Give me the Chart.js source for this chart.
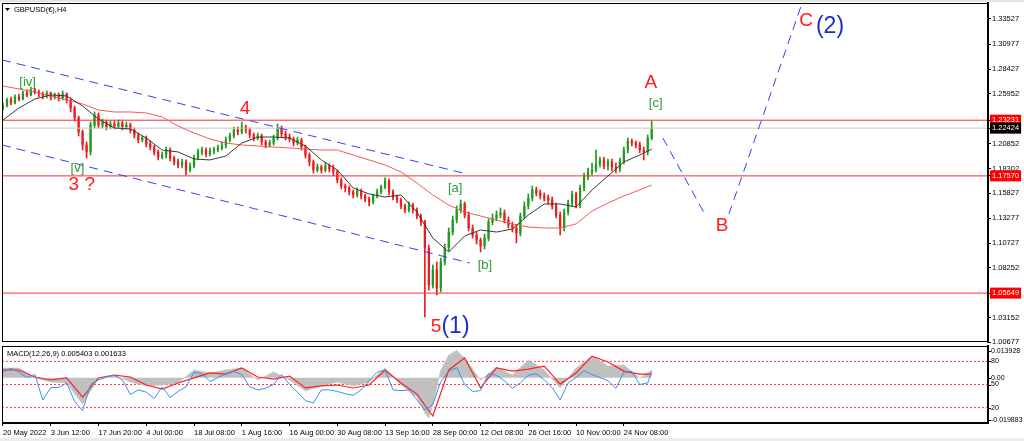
<!DOCTYPE html>
<html>
<head>
<meta charset="utf-8">
<title>GBPUSD H4</title>
<script src="https://cdn.jsdelivr.net/npm/chart.js@4.4.1/dist/chart.umd.min.js"></script>
<style>
body { margin: 0; background: #fff; }
#wrap { position: relative; width: 1024px; height: 441px; overflow: hidden; background: #fff; }
#main { position: absolute; left: 0; top: 0; }
#macd { position: absolute; left: 0; top: 343px; }
#topbar { position: absolute; left: 0; top: 0; width: 1024px; height: 2px; background: #e4e4e4; }
#botbar { position: absolute; left: 0; top: 438px; width: 1024px; height: 3px; background: #ececec; }
</style>
</head>
<body>
<div id="wrap">
  <canvas id="main" width="1024" height="346"></canvas>
  <canvas id="macd" width="1024" height="98"></canvas>
  <div id="topbar"></div>
  <div id="botbar"></div>
</div>
<script>
// price data, H4 candles (open = previous close)
var firstOpen = 1.2447;
var closes = [1.2468,1.2529,1.2498,1.2559,1.2539,1.2600,1.2580,1.2631,1.2610,1.2590,
  1.2570,1.2600,1.2559,1.2580,1.2549,1.2590,1.2529,1.2447,1.2346,1.2203,
  1.2071,1.2000,1.2274,1.2376,1.2274,1.2305,1.2254,1.2285,1.2264,1.2295,
  1.2254,1.2274,1.2224,1.2173,1.2122,1.2142,1.2081,1.2051,1.2000,1.1949,
  1.1969,1.2020,1.1939,1.1898,1.1868,1.1898,1.1817,1.1858,1.1939,1.2000,
  1.2020,1.1980,1.2010,1.2020,1.2041,1.2061,1.2122,1.2163,1.2224,1.2203,
  1.2254,1.2224,1.2173,1.2142,1.2163,1.2102,1.2071,1.2091,1.2142,1.2244,
  1.2183,1.2152,1.2132,1.2091,1.2122,1.2051,1.1969,1.1898,1.1817,1.1847,
  1.1817,1.1858,1.1827,1.1797,1.1715,1.1654,1.1634,1.1593,1.1563,1.1603,
  1.1553,1.1522,1.1492,1.1553,1.1593,1.1644,1.1705,1.1593,1.1542,1.1512,
  1.1451,1.1410,1.1461,1.1410,1.1349,1.1288,1.1024,1.0647,1.0800,1.0617,
  1.0881,1.1024,1.1186,1.1308,1.1410,1.1471,1.1359,1.1227,1.1156,1.1105,
  1.1044,1.1125,1.1288,1.1329,1.1359,1.1380,1.1308,1.1258,1.1227,1.1176,
  1.1349,1.1451,1.1532,1.1614,1.1583,1.1553,1.1532,1.1512,1.1451,1.1359,
  1.1227,1.1390,1.1481,1.1573,1.1461,1.1634,1.1746,1.1797,1.1817,1.1878,
  1.1919,1.1858,1.1898,1.1847,1.1827,1.1908,1.2020,1.2112,1.2091,1.2071,
  1.2020,1.2000,1.2142,1.2244];
var highs = [1.2498,1.2549,1.2559,1.2580,1.2590,1.2620,1.2631,1.2661,1.2651,1.2631,
  1.2610,1.2620,1.2610,1.2600,1.2600,1.2620,1.2600,1.2549,1.2468,1.2366,
  1.2224,1.2102,1.2305,1.2407,1.2397,1.2335,1.2325,1.2315,1.2315,1.2325,
  1.2315,1.2305,1.2295,1.2244,1.2193,1.2163,1.2163,1.2112,1.2071,1.2020,
  1.2000,1.2051,1.2041,1.1959,1.1929,1.1929,1.1919,1.1888,1.1969,1.2030,
  1.2051,1.2041,1.2041,1.2051,1.2071,1.2102,1.2152,1.2193,1.2254,1.2254,
  1.2305,1.2274,1.2244,1.2193,1.2193,1.2183,1.2122,1.2122,1.2173,1.2285,
  1.2264,1.2213,1.2183,1.2152,1.2152,1.2142,1.2071,1.1990,1.1919,1.1878,
  1.1868,1.1888,1.1878,1.1868,1.1817,1.1736,1.1675,1.1654,1.1614,1.1634,
  1.1624,1.1573,1.1542,1.1573,1.1624,1.1664,1.1736,1.1725,1.1614,1.1563,
  1.1532,1.1471,1.1492,1.1481,1.1431,1.1369,1.1308,1.1054,1.0851,1.0881,
  1.0922,1.1064,1.1227,1.1349,1.1451,1.1512,1.1492,1.1390,1.1258,1.1186,
  1.1125,1.1166,1.1319,1.1369,1.1400,1.1431,1.1410,1.1339,1.1288,1.1258,
  1.1380,1.1492,1.1573,1.1654,1.1644,1.1614,1.1583,1.1563,1.1542,1.1481,
  1.1390,1.1420,1.1512,1.1603,1.1593,1.1664,1.1786,1.1837,1.1888,1.2020,
  1.1949,1.1949,1.1929,1.1929,1.1888,1.1939,1.2051,1.2142,1.2132,1.2112,
  1.2102,1.2051,1.2173,1.2315];
var lows = [1.2427,1.2458,1.2478,1.2488,1.2519,1.2529,1.2559,1.2570,1.2590,1.2559,
  1.2539,1.2549,1.2529,1.2539,1.2519,1.2529,1.2498,1.2407,1.2315,1.2163,
  1.2020,1.1939,1.1969,1.2244,1.2244,1.2244,1.2224,1.2234,1.2234,1.2244,
  1.2224,1.2234,1.2193,1.2142,1.2091,1.2102,1.2051,1.2020,1.1969,1.1919,
  1.1929,1.1939,1.1908,1.1868,1.1837,1.1837,1.1766,1.1797,1.1837,1.1919,
  1.1969,1.1949,1.1959,1.1980,1.2000,1.2020,1.2041,1.2102,1.2142,1.2173,
  1.2183,1.2193,1.2142,1.2112,1.2122,1.2071,1.2041,1.2051,1.2071,1.2122,
  1.2152,1.2122,1.2102,1.2061,1.2071,1.2020,1.1939,1.1858,1.1786,1.1797,
  1.1786,1.1797,1.1797,1.1756,1.1685,1.1624,1.1593,1.1563,1.1532,1.1542,
  1.1522,1.1492,1.1451,1.1471,1.1532,1.1573,1.1624,1.1563,1.1512,1.1481,
  1.1420,1.1380,1.1390,1.1380,1.1319,1.1247,1.0322,1.0596,1.0617,1.0546,
  1.0576,1.0851,1.0993,1.1156,1.1278,1.1380,1.1329,1.1197,1.1125,1.1064,
  1.0983,1.1013,1.1095,1.1258,1.1298,1.1329,1.1278,1.1227,1.1186,1.1075,
  1.1146,1.1319,1.1420,1.1502,1.1553,1.1522,1.1502,1.1471,1.1420,1.1329,
  1.1156,1.1197,1.1359,1.1451,1.1431,1.1431,1.1603,1.1715,1.1766,1.1797,
  1.1847,1.1827,1.1817,1.1807,1.1786,1.1797,1.1878,1.1990,1.2061,1.2041,
  1.1990,1.1919,1.1969,1.2122];

// moving averages, read every 4th bar
var maIdx = [0,4,8,12,16,20,24,28,32,36,40,44,48,52,56,60,64,68,72,76,80,84,88,92,96,100,104,108,112,116,120,124,128,132,136,140,144,148,152,156,160,163];
var maFast = [1.2325,1.2447,1.2539,1.2580,1.2570,1.2468,1.2335,1.2244,1.2234,1.2142,
  1.2020,1.2000,1.1929,1.1919,1.1959,1.2091,1.2152,1.2152,1.2142,1.2061,
  1.1919,1.1817,1.1634,1.1573,1.1542,1.1563,1.1390,1.1125,1.0983,1.1146,
  1.1207,1.1186,1.1217,1.1359,1.1471,1.1471,1.1441,1.1614,1.1756,1.1898,
  1.1969,1.2030];
var maSlow = [1.2671,1.2641,1.2610,1.2570,1.2529,1.2488,1.2427,1.2407,1.2407,1.2397,
  1.2356,1.2264,1.2193,1.2132,1.2091,1.2071,1.2061,1.2051,1.2041,1.2030,
  1.2020,1.2020,1.1969,1.1919,1.1868,1.1797,1.1685,1.1563,1.1461,1.1390,
  1.1349,1.1308,1.1268,1.1237,1.1227,1.1227,1.1268,1.1400,1.1481,1.1553,
  1.1614,1.1664];

var priceTicks = [1.33527, 1.30977, 1.28427, 1.25952, 1.23231, 1.22424, 1.20852, 1.18302, 1.17570, 1.15827, 1.13277, 1.10727, 1.08252, 1.05649, 1.03152, 1.00677];
var redLevels = [1.23231, 1.17570, 1.05649];
var bidPrice = 1.22424;

// channel and projection lines (bar index, price)
var chanUpIdx = [-0.25, 115.6], chanUpPrice = [1.2936, 1.1786];
var chanLoIdx = [-0.25, 117.3], chanLoPrice = [1.2071, 1.0871];
var projAIdx = [165.8, 176.6], projAPrice = [1.2142, 1.1349];
var projBIdx = [182.4, 200.8], projBPrice = [1.1369, 1.3515];

var timeIdx = [0, 12, 24, 36, 48, 60, 72, 84, 96, 108, 120, 132, 144, 156];
var timeLabels = ['20 May 2022', '3 Jun 12:00', '17 Jun 20:00', '4 Jul 00:00', '18 Jul 08:00', '1 Aug 16:00', '16 Aug 00:00', '30 Aug 08:00', '13 Sep 16:00', '28 Sep 00:00', '12 Oct 08:00', '26 Oct 16:00', '10 Nov 00:00', '24 Nov 08:00'];

// MACD window
var histIdx = [0,4,8,12,16,20,24,28,32,36,40,44,48,52,56,60,64,68,72,76,80,84,88,92,96,100,104,106,107,108,110,112,114,116,120,124,128,132,136,140,144,148,152,156,160,163];
var histVal = [0.0043,0.0043,-0.0001,-0.0019,-0.0023,-0.0116,-0.0001,0.0012,-0.0019,-0.0036,
  -0.0032,-0.0023,0.0034,0.0021,0.0034,0.0043,-0.0010,0.0025,-0.0010,-0.0058,
  -0.0036,-0.0019,-0.0036,-0.0019,0.0043,-0.0032,-0.0085,-0.0155,-0.0177,-0.0120,
  0.0034,0.0100,0.0120,0.0087,-0.0010,0.0047,0.0012,0.0078,0.0034,-0.0045,
  0.0043,0.0095,0.0051,0.0056,-0.0001,0.0034];
var signalVal = [0.0034,0.0034,0.0003,-0.0010,-0.0001,-0.0085,-0.0001,0.0012,0.0003,-0.0032,
  -0.0050,-0.0023,-0.0001,0.0021,0.0016,0.0043,0.0003,-0.0006,0.0007,-0.0045,
  -0.0036,-0.0032,-0.0045,-0.0032,0.0034,-0.0023,-0.0072,-0.0168,0.0034,0.0087,
  -0.0045,0.0043,0.0029,0.0038,0.0051,-0.0028,0.0021,0.0095,0.0069,0.0029,
  0.0016,0.0016];
var oscIdx = [0,2,4,6,8,10,12,14,16,18,20,22,24,26,28,30,32,34,36,38,40,42,44,46,48,50,52,54,56,58,60,62,64,66,68,70,72,74,76,78,80,82,84,86,88,90,92,94,96,98,100,102,104,106,108,110,112,114,116,118,120,122,124,126,128,130,132,134,136,138,140,142,144,146,148,150,152,154,156,158,160,162,163];
var oscVal = [66,71,66,59,63,30,46,46,52,28,
  16,50,56,60,62,56,37,43,40,32,
  47,33,41,47,66,64,54,59,64,67,
  63,47,43,45,50,63,50,40,29,26,
  43,43,41,38,36,43,55,66,69,43,
  42,43,30,17,24,54,67,72,50,41,
  42,64,62,55,45,52,62,64,56,46,
  30,52,59,68,63,59,55,45,66,67,
  50,52,67];
var oscLevels = [80, 50, 20];
var macdMin = -0.019883, macdMax = 0.013928;

// wave count labels
var waveText = ['[iv]', '[v]', '3 ?', '4', '[a]', '[b]', '5', '(1)', 'A', '[c]', 'B', 'C', '(2)'];
var waveIdx = [6.2, 18.7, 19.8, 60.8, 113.6, 121.1, 108.8, 113.7, 162.8, 164.0, 180.7, 201.8, 207.8];
var wavePrice = [1.2707, 1.1832, 1.1664, 1.2437, 1.1629, 1.0851, 1.0220, 1.0220, 1.2707, 1.2493, 1.1247, 1.3332, 1.3271];
var waveKind = ['g', 'g', 'r', 'r', 'g', 'g', 'r', 'b', 'r', 'g', 'r', 'r', 'b'];
var waveStyle = {
  g: { color: '#2f9a36', size: 13 },
  r: { color: '#ff1a1a', size: 19 },
  b: { color: '#1a2ec8', size: 23 }
};

var xMin = -0.25, xMax = 247.5;
var yMin = 1.00677, yMax = 1.3515;
var upColor = '#1f9b1f', downColor = '#ee1c1c';
var axisFont = { family: 'Liberation Sans', size: 7.5 };

var opens = closes.map(function(c, i) { return i === 0 ? firstOpen : closes[i - 1]; });
var candleColors = closes.map(function(c, i) { return c >= opens[i] ? upColor : downColor; });

function pts(xs, ys) {
  return xs.map(function(x, i) { return { x: x, y: ys[i] }; });
}

function hline(v) {
  return [{ x: xMin, y: v }, { x: xMax, y: v }];
}

function lineSet(data, color, width, dash, order, axis) {
  return {
    type: 'line',
    data: data,
    borderColor: color,
    borderWidth: width,
    borderDash: dash || [],
    pointRadius: 0,
    fill: false,
    tension: 0,
    order: order,
    yAxisID: axis || 'y'
  };
}

function isRed(v) {
  return redLevels.some(function(l) { return Math.abs(l - v) < 1e-7; });
}

function isBid(v) {
  return Math.abs(v - bidPrice) < 1e-7;
}

var framePlugin = {
  id: 'frame',
  afterDraw: function(chart) {
    var a = chart.chartArea;
    var ctx = chart.ctx;
    ctx.save();
    ctx.strokeStyle = '#000';
    ctx.lineWidth = 1;
    ctx.strokeRect(a.left + 0.5, a.top + 0.5, a.right - a.left - 1, a.bottom - a.top - 1);
    ctx.restore();
  }
};

var titlePlugin = {
  id: 'title',
  afterDraw: function(chart) {
    var ctx = chart.ctx;
    ctx.save();
    ctx.fillStyle = '#000';
    ctx.beginPath();
    ctx.moveTo(5, 8);
    ctx.lineTo(10, 8);
    ctx.lineTo(7.5, 11);
    ctx.closePath();
    ctx.fill();
    ctx.font = '7.5px "Liberation Sans"';
    ctx.textBaseline = 'middle';
    ctx.fillText('GBPUSD(\u20ac),H4', 14, 10);
    ctx.restore();
  }
};

var wavePlugin = {
  id: 'waves',
  afterDatasetsDraw: function(chart) {
    var ctx = chart.ctx;
    var sx = chart.scales.x, sy = chart.scales.y;
    ctx.save();
    ctx.textAlign = 'center';
    ctx.textBaseline = 'middle';
    for (var i = 0; i < waveText.length; i++) {
      var st = waveStyle[waveKind[i]];
      ctx.font = st.size + 'px "Liberation Sans"';
      ctx.fillStyle = st.color;
      ctx.fillText(waveText[i], sx.getPixelForValue(waveIdx[i]), sy.getPixelForValue(wavePrice[i]));
    }
    ctx.restore();
  }
};

var macdLabelPlugin = {
  id: 'macdLabels',
  afterDraw: function(chart) {
    var ctx = chart.ctx;
    var a = chart.chartArea;
    var sy = chart.scales.y, s2 = chart.scales.y2;
    var labels = [
      { t: macdMax.toFixed(6), y: a.top + 5 },
      { t: '0.00', y: sy.getPixelForValue(0) },
      { t: macdMin.toFixed(6), y: a.bottom - 3 }
    ];
    oscLevels.forEach(function(l) {
      labels.push({ t: String(l), y: s2.getPixelForValue(l) });
    });
    ctx.save();
    ctx.font = '7px "Liberation Sans"';
    ctx.fillStyle = '#000';
    ctx.strokeStyle = '#000';
    ctx.textBaseline = 'middle';
    labels.forEach(function(l) {
      ctx.beginPath();
      ctx.moveTo(a.right, Math.round(l.y) + 0.5);
      ctx.lineTo(a.right + 3, Math.round(l.y) + 0.5);
      ctx.stroke();
      ctx.fillText(l.t, a.right + 3, l.y);
    });
    ctx.font = '7.5px "Liberation Sans"';
    ctx.fillText('MACD(12,26,9) 0.005403 0.001633', a.left + 5, a.top + 8);
    ctx.restore();
  }
};

function buildMainChart() {
  var idx = closes.map(function(c, i) { return i; });
  var wicks = idx.map(function(i) { return { x: i, y: [lows[i], highs[i]] }; });
  var bodies = idx.map(function(i) { return { x: i, y: [opens[i], closes[i]] }; });

  var datasets = [
    {
      type: 'bar', data: wicks, backgroundColor: candleColors,
      barThickness: 1, grouped: false, order: 10
    },
    {
      type: 'bar', data: bodies, backgroundColor: candleColors,
      barThickness: 1.6, minBarLength: 1, grouped: false, order: 9
    },
    lineSet(pts(maIdx, maSlow), '#f25a5a', 1, null, 4),
    lineSet(pts(maIdx, maFast), '#3a3a3a', 1, null, 3),
    lineSet(hline(bidPrice), '#c8c8c8', 1, null, 8),
    lineSet(pts(chanUpIdx, chanUpPrice), '#3c3cf0', 1, [9, 6], 5),
    lineSet(pts(chanLoIdx, chanLoPrice), '#3c3cf0', 1, [9, 6], 5),
    lineSet(pts(projAIdx, projAPrice), '#3c3cf0', 1, [9, 6], 5),
    lineSet(pts(projBIdx, projBPrice), '#3c3cf0', 1, [9, 6], 5)
  ];
  redLevels.forEach(function(l) {
    datasets.push(lineSet(hline(l), '#ff2a2a', 1, null, 6));
  });

  new Chart(document.getElementById('main'), {
    type: 'bar',
    data: { datasets: datasets },
    options: {
      responsive: false,
      animation: false,
      events: [],
      layout: { padding: { left: 2, top: 3, bottom: 4, right: 0 } },
      plugins: { legend: { display: false }, tooltip: { enabled: false } },
      scales: {
        x: { type: 'linear', min: xMin, max: xMax, offset: false, display: false },
        y: {
          position: 'right',
          min: yMin,
          max: yMax,
          afterBuildTicks: function(s) {
            s.ticks = priceTicks.map(function(v) { return { value: v }; });
          },
          afterFit: function(s) {
            s.width = 36;
            s.paddingTop = 0;
            s.paddingBottom = 0;
          },
          grid: { drawOnChartArea: false, tickLength: 3, color: '#000' },
          border: { color: '#000', width: 2 },
          ticks: {
            font: axisFont,
            padding: 1,
            callback: function(v) { return v.toFixed(5); },
            color: function(c) { return (isRed(c.tick.value) || isBid(c.tick.value)) ? '#fff' : '#000'; },
            showLabelBackdrop: function(c) { return isRed(c.tick.value) || isBid(c.tick.value); },
            backdropColor: function(c) { return isRed(c.tick.value) ? '#ff0000' : '#000'; },
            backdropPadding: { x: 2, y: 1 }
          }
        }
      }
    },
    plugins: [framePlugin, titlePlugin, wavePlugin]
  });
}

function buildMacdChart() {
  var datasets = [
    {
      type: 'line', data: pts(histIdx, histVal), borderColor: '#b8b8b8', borderWidth: 0.5,
      backgroundColor: '#c0c0c0', fill: 'origin', pointRadius: 0, tension: 0,
      order: 5, yAxisID: 'y'
    },
    lineSet(pts(maIdx, signalVal), '#ff2020', 1.2, null, 2),
    lineSet(pts(oscIdx, oscVal), '#3b8ff0', 1, null, 1, 'y2')
  ];
  oscLevels.forEach(function(l) {
    datasets.push(lineSet(hline(l), '#ff3b3b', 1, [2, 2], 6, 'y2'));
  });

  new Chart(document.getElementById('macd'), {
    type: 'line',
    data: { datasets: datasets },
    options: {
      responsive: false,
      animation: false,
      events: [],
      layout: { padding: { left: 2, top: 3, bottom: 0, right: 0 } },
      plugins: { legend: { display: false }, tooltip: { enabled: false } },
      scales: {
        x: {
          type: 'linear', min: xMin, max: xMax, offset: false,
          afterBuildTicks: function(s) {
            s.ticks = timeIdx.map(function(v) { return { value: v }; });
          },
          afterFit: function(s) {
            s.height = 18;
            s.paddingLeft = 0;
            s.paddingRight = 0;
          },
          grid: { drawOnChartArea: false, tickLength: 3, color: '#000' },
          border: { color: '#000' },
          ticks: {
            font: axisFont, color: '#000', align: 'start', autoSkip: false,
            maxRotation: 0, padding: 2,
            callback: function(v, i) { return timeLabels[i]; }
          }
        },
        y: {
          position: 'right', min: macdMin, max: macdMax,
          afterFit: function(s) {
            s.width = 36;
            s.paddingTop = 0;
            s.paddingBottom = 0;
          },
          ticks: { display: false },
          grid: { display: false },
          border: { color: '#000', width: 2 }
        },
        y2: { display: false, min: 0, max: 100 }
      }
    },
    plugins: [framePlugin, macdLabelPlugin]
  });
}

buildMainChart();
buildMacdChart();
</script>
</body>
</html>
